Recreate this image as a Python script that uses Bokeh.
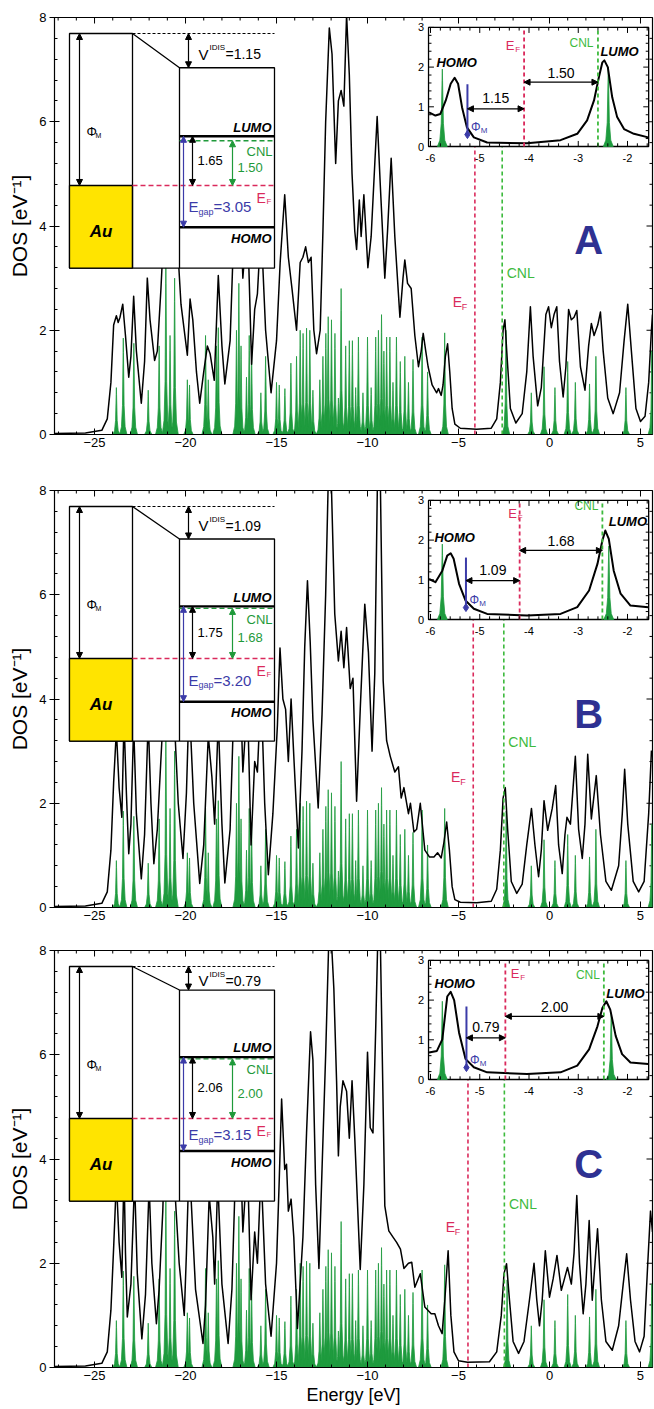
import numpy as np
from bokeh.plotting import figure
from bokeh.layouts import column
from bokeh.models import Range1d, SingleIntervalTicker, Arrow, NormalHead
from bokeh.core.properties import value
from bokeh.embed import file_html
from bokeh.resources import INLINE

FONT = "Liberation Sans"
SPIKE_GREEN = "#1E9B3E"
RED = "#DA2A5C"
LGREEN = "#3DBA3D"
DGREEN = "#1F9A3A"
BLUE = "#3B3BA8"
LETTER_BLUE = "#2E3192"
YELLOW = "#FFE400"

# ------------------------------------------------------------------ data
panel_letters = ["A", "B", "C"]
e_fermi = [-4.10, -4.19, -4.48]          # eV, red dashed line
e_cnl = [-2.60, -2.51, -2.48]            # eV, green dashed line
phi_m = [5.10, 5.10, 5.10]               # metal work function (band diagram)
v_idis = [1.15, 1.09, 0.79]
d_lumo = [1.65, 1.75, 2.06]              # LUMO - E_F
d_cnl = [1.50, 1.68, 2.00]               # CNL - E_F
e_gap = [3.05, 3.20, 3.15]

dos_a = [(-27.2, 0.02), (-25.5, 0.03), (-24.6, 0.08), (-24.3, 0.3), (-24.1, 1.0), (-23.95, 2.1), (-23.8, 2.28),
         (-23.7, 2.15), (-23.6, 2.25), (-23.45, 2.5), (-23.3, 1.9), (-23.12, 1.1), (-23.0, 1.5), (-22.85, 2.65),
         (-22.7, 1.6), (-22.43, 0.6), (-22.25, 1.4), (-22.1, 3.0), (-21.95, 2.2), (-21.7, 1.42), (-21.55, 1.6),
         (-21.35, 2.8), (-21.1, 4.6), (-20.9, 4.0), (-20.7, 3.6), (-20.5, 4.0), (-20.25, 2.5), (-19.9, 1.52),
         (-19.75, 2.6), (-19.6, 2.2), (-19.4, 1.2), (-19.22, 0.6), (-19.0, 1.2), (-18.8, 1.7), (-18.65, 1.55),
         (-18.42, 1.04), (-18.2, 3.05), (-18.0, 1.7), (-17.84, 0.97), (-17.55, 1.8), (-17.3, 4.4), (-17.05, 5.0),
         (-16.85, 3.0), (-16.6, 4.2), (-16.37, 1.35), (-16.2, 2.4), (-16.05, 2.7), (-15.85, 4.0), (-15.6, 2.0),
         (-15.3, 0.8), (-15.0, 1.8), (-14.8, 3.3), (-14.55, 4.6), (-14.35, 3.4), (-14.15, 2.8), (-13.9, 2.0),
         (-13.7, 3.3), (-13.55, 3.4), (-13.4, 3.6), (-13.25, 3.3), (-13.1, 3.4), (-12.95, 2.0), (-12.8, 1.55),
         (-12.6, 2.0), (-12.45, 3.9), (-12.3, 6.0), (-12.1, 7.8), (-11.95, 7.3), (-11.75, 5.2), (-11.6, 6.4),
         (-11.45, 6.6), (-11.3, 6.3), (-11.15, 8.05), (-11.0, 6.9), (-10.85, 5.0), (-10.7, 3.9), (-10.6, 3.55),
         (-10.45, 4.5), (-10.35, 3.8), (-10.2, 4.6), (-9.98, 3.2), (-9.8, 3.8), (-9.6, 5.2), (-9.47, 6.1),
         (-9.3, 4.8), (-9.05, 3.0), (-8.9, 3.9), (-8.7, 5.3), (-8.5, 3.8), (-8.22, 2.25), (-8.05, 3.0),
         (-7.95, 3.35), (-7.8, 2.9), (-7.6, 2.8), (-7.4, 1.9), (-7.2, 1.3), (-7.05, 1.6), (-6.94, 1.94),
         (-6.8, 1.6), (-6.67, 1.3), (-6.45, 0.95), (-6.2, 0.8), (-6.1, 0.88), (-5.95, 0.75), (-5.85, 0.95),
         (-5.72, 1.5), (-5.6, 1.74), (-5.48, 1.2), (-5.35, 0.5), (-5.2, 0.2), (-4.9, 0.12), (-4.0, 0.1),
         (-3.2, 0.12), (-2.9, 0.3), (-2.7, 1.0), (-2.55, 2.0), (-2.45, 2.2), (-2.35, 1.6), (-2.15, 0.5),
         (-1.85, 0.22), (-1.5, 0.4), (-1.25, 1.2), (-1.05, 2.45), (-0.9, 1.5), (-0.65, 0.55), (-0.45, 0.9),
         (-0.2, 2.3), (-0.05, 2.45), (0.1, 2.05), (0.25, 2.3), (0.4, 2.45), (0.55, 1.4), (0.75, 0.72),
         (0.9, 1.3), (1.05, 2.4), (1.2, 2.2), (1.35, 2.25), (1.5, 2.38), (1.7, 1.3), (1.95, 0.85), (2.15, 1.7),
         (2.3, 2.13), (2.45, 1.9), (2.65, 2.1), (2.8, 2.35), (2.95, 1.6), (3.2, 0.7), (3.5, 0.4), (3.85, 0.8),
         (4.1, 1.8), (4.3, 2.5), (4.5, 1.6), (4.75, 0.5), (5.0, 0.25), (5.25, 0.35), (5.45, 1.0), (5.6, 2.0),
         (5.66, 2.3)]

dos_b = [(-27.2, 0.02), (-25.5, 0.03), (-24.6, 0.08), (-24.3, 0.3), (-24.1, 1.1), (-23.95, 2.4), (-23.8, 3.4),
         (-23.65, 2.3), (-23.5, 1.73), (-23.38, 3.6), (-23.25, 2.2), (-23.12, 1.03), (-23.0, 1.6), (-22.85, 3.5),
         (-22.7, 1.8), (-22.43, 0.55), (-22.25, 1.4), (-22.05, 3.6), (-21.9, 2.0), (-21.74, 0.84), (-21.55, 1.5),
         (-21.3, 3.2), (-21.1, 4.8), (-20.9, 3.8), (-20.6, 3.5), (-20.4, 2.0), (-20.14, 0.94), (-19.95, 2.2),
         (-19.8, 4.0), (-19.55, 2.0), (-19.22, 0.46), (-19.0, 1.2), (-18.75, 3.3), (-18.55, 2.5), (-18.4, 1.6),
         (-18.2, 3.6), (-18.0, 1.6), (-17.84, 0.47), (-17.55, 1.5), (-17.3, 4.4), (-17.05, 5.0), (-16.85, 2.6),
         (-16.6, 4.0), (-16.4, 1.2), (-16.2, 2.8), (-16.05, 2.6), (-15.85, 4.2), (-15.65, 2.0), (-15.45, 0.63),
         (-15.2, 1.8), (-14.95, 3.5), (-14.81, 4.98), (-14.65, 4.0), (-14.5, 3.8), (-14.35, 2.8), (-14.2, 4.0),
         (-14.05, 2.9), (-13.8, 1.14), (-13.6, 3.0), (-13.45, 5.0), (-13.3, 6.27), (-13.15, 5.1), (-13.0, 3.6),
         (-12.71, 1.91), (-12.5, 3.7), (-12.3, 6.0), (-12.15, 8.3), (-12.0, 8.3), (-11.8, 5.63), (-11.6, 4.73),
         (-11.45, 5.3), (-11.3, 4.6), (-11.15, 5.37), (-10.95, 4.2), (-10.8, 4.4), (-10.6, 2.04), (-10.4, 3.8),
         (-10.15, 5.82), (-9.95, 4.9), (-9.75, 3.0), (-9.6, 4.5), (-9.45, 8.3), (-9.3, 8.3), (-9.14, 4.35),
         (-8.95, 3.2), (-8.75, 2.9), (-8.5, 2.6), (-8.3, 2.7), (-8.15, 2.1), (-8.0, 2.3), (-7.75, 1.8),
         (-7.64, 2.0), (-7.45, 1.45), (-7.3, 1.5), (-7.1, 2.0), (-6.85, 1.1), (-6.6, 0.97), (-6.35, 0.97),
         (-6.15, 1.05), (-5.95, 0.95), (-5.8, 1.25), (-5.65, 1.64), (-5.5, 1.1), (-5.35, 0.4), (-5.2, 0.15),
         (-4.9, 0.1), (-4.0, 0.09), (-3.2, 0.12), (-2.9, 0.35), (-2.7, 1.1), (-2.55, 2.1), (-2.43, 2.3),
         (-2.3, 1.5), (-2.1, 0.5), (-1.8, 0.27), (-1.5, 0.45), (-1.25, 1.2), (-0.99, 1.9), (-0.8, 1.2),
         (-0.6, 0.59), (-0.45, 1.1), (-0.3, 2.05), (-0.1, 1.48), (0.15, 1.9), (0.34, 2.34), (0.5, 1.2),
         (0.7, 0.65), (0.85, 1.4), (0.96, 1.73), (1.15, 1.6), (1.42, 2.9), (1.6, 1.5), (1.8, 0.94), (1.95, 1.6),
         (2.1, 2.94), (2.3, 1.7), (2.57, 2.53), (2.8, 1.4), (3.1, 0.5), (3.4, 0.33), (3.8, 0.8), (4.0, 1.8),
         (4.13, 2.65), (4.3, 1.6), (4.6, 0.5), (4.9, 0.3), (5.2, 0.5), (5.45, 1.8), (5.6, 3.0), (5.66, 2.9)]

dos_c = [(-27.2, 0.02), (-25.5, 0.03), (-24.6, 0.08), (-24.3, 0.3), (-24.1, 1.1), (-23.95, 2.3), (-23.8, 3.6),
         (-23.65, 2.4), (-23.5, 1.73), (-23.38, 3.8), (-23.3, 2.2), (-23.2, 0.97), (-23.0, 1.6), (-22.8, 3.6),
         (-22.65, 1.8), (-22.4, 0.55), (-22.2, 1.4), (-22.0, 3.5), (-21.85, 2.0), (-21.6, 0.84), (-21.45, 1.5),
         (-21.25, 3.0), (-21.1, 4.8), (-20.9, 3.8), (-20.6, 3.5), (-20.35, 2.0), (-20.07, 1.0), (-19.95, 2.2),
         (-19.8, 4.0), (-19.45, 1.5), (-19.04, 0.46), (-18.9, 1.2), (-18.7, 3.3), (-18.5, 2.5), (-18.4, 1.6),
         (-18.23, 3.6), (-18.0, 1.6), (-17.66, 0.46), (-17.45, 1.5), (-17.2, 4.4), (-17.05, 5.0), (-16.85, 2.6),
         (-16.6, 4.0), (-16.4, 1.3), (-16.2, 2.6), (-16.05, 2.0), (-15.85, 3.8), (-15.6, 1.6), (-15.3, 0.6),
         (-15.0, 2.0), (-14.85, 3.6), (-14.72, 5.15), (-14.55, 3.8), (-14.45, 3.9), (-14.35, 3.0), (-14.2, 3.23),
         (-14.05, 2.5), (-13.85, 0.75), (-13.55, 2.5), (-13.35, 4.5), (-13.13, 6.44), (-13.0, 5.9), (-12.85, 3.5),
         (-12.67, 1.9), (-12.5, 3.8), (-12.3, 6.0), (-12.12, 8.3), (-12.0, 8.3), (-11.85, 7.27), (-11.7, 5.5),
         (-11.6, 4.06), (-11.5, 5.0), (-11.35, 5.5), (-11.15, 5.3), (-11.0, 4.4), (-10.85, 5.5), (-10.7, 4.4),
         (-10.4, 1.88), (-10.2, 3.5), (-10.0, 6.05), (-9.85, 4.6), (-9.7, 4.5), (-9.55, 6.5), (-9.43, 8.3),
         (-9.3, 8.3), (-9.05, 3.1), (-8.83, 2.62), (-8.6, 2.5), (-8.4, 2.4), (-8.19, 2.27), (-8.0, 1.9),
         (-7.75, 2.0), (-7.57, 2.02), (-7.4, 1.54), (-7.1, 1.8), (-6.85, 1.16), (-6.5, 1.03), (-6.3, 1.03),
         (-6.1, 0.8), (-5.9, 0.65), (-5.75, 1.3), (-5.57, 2.24), (-5.42, 1.0), (-5.25, 0.3), (-5.0, 0.13),
         (-4.5, 0.1), (-3.3, 0.11), (-2.9, 0.3), (-2.65, 1.0), (-2.5, 1.8), (-2.36, 1.99), (-2.2, 1.3),
         (-2.0, 0.5), (-1.7, 0.27), (-1.4, 0.5), (-1.1, 1.3), (-0.85, 2.0), (-0.7, 1.3), (-0.55, 0.8),
         (-0.4, 1.3), (-0.23, 2.24), (0.0, 1.35), (0.2, 1.7), (0.41, 2.15), (0.65, 1.48), (0.99, 1.92),
         (1.2, 1.6), (1.35, 2.2), (1.5, 3.3), (1.65, 2.0), (1.85, 1.03), (2.0, 1.6), (2.18, 2.82), (2.35, 1.29),
         (2.5, 2.0), (2.64, 2.66), (2.85, 1.3), (3.1, 0.5), (3.45, 0.33), (3.8, 0.8), (4.05, 1.6), (4.24, 2.18),
         (4.45, 1.3), (4.7, 0.5), (4.95, 0.3), (5.2, 0.6), (5.4, 2.0), (5.55, 3.0), (5.66, 2.6)]

# molecular levels (green spikes), shared by all three panels
spike_x = [-23.8, -23.42, -22.84, -22.05, -21.45, -21.08, -20.85, -20.6, -19.9, -19.78, -18.9, -18.75,
           -18.3, -18.2, -17.2, -17.07, -16.95, -16.65, -16.5, -16.37, -15.86, -15.6, -15.0, -14.85,
           -14.54, -14.21, -13.9, -13.7, -13.54, -13.35, -13.17, -13.0, -12.62, -12.45, -12.29, -12.16,
           -11.98, -11.79, -11.6, -11.45, -11.2, -11.0, -10.83, -10.65, -10.5, -10.25, -10.0, -9.8, -9.55,
           -9.4, -9.23, -9.1, -8.95, -8.77, -8.6, -8.41, -8.2, -7.95, -7.75, -7.5, -7.0, -6.7,
           -1.0, -0.3, 0.3, 1.0, 1.42, 2.2, 2.55, 4.2, 5.62]
spike_h = [0.9, 1.85, 1.75, 0.85, 1.7, 3.4, 1.9, 3.0, 1.05, 0.95, 1.9, 1.05,
           1.7, 2.05, 2.0, 2.9, 1.7, 1.1, 1.9, 1.6, 0.8, 1.5, 1.0, 0.95,
           0.88, 1.37, 1.5, 2.0, 1.94, 2.04, 2.0, 0.85, 1.05, 1.5, 1.94, 2.26,
           2.2, 1.94, 0.7, 2.8, 1.7, 1.8, 1.8, 0.9, 1.87, 0.8, 1.87, 0.9, 1.87,
           2.0, 2.3, 1.6, 1.87, 1.87, 1.0, 1.87, 1.4, 1.5, 1.0, 1.44, 1.87, 1.2,
           0.8, 1.3, 0.9, 1.4, 1.0, 0.97, 1.5, 0.9, 1.6]
homo_spike_x = [-5.76, -5.76, -5.76]
homo_spike_h = [1.95, 1.90, 1.97]
lumo_spike_x = [-2.39, -2.38, -2.33]
lumo_spike_h = [2.00, 1.85, 1.68]

# zoomed insets (-6 ... -1.6 eV)
ins_a = [(-6.03, 0.86), (-5.90, 0.78), (-5.80, 0.82), (-5.69, 1.16), (-5.59, 1.58), (-5.51, 1.73), (-5.44, 1.58),
         (-5.36, 0.99), (-5.26, 0.48), (-5.12, 0.23), (-4.85, 0.10), (-4.04, 0.08), (-3.36, 0.16), (-3.02, 0.32),
         (-2.82, 0.66), (-2.68, 1.16), (-2.58, 1.75), (-2.51, 2.12), (-2.47, 2.17), (-2.40, 2.0), (-2.31, 1.24),
         (-2.21, 0.74), (-2.07, 0.44), (-1.87, 0.32), (-1.58, 0.23)]
ins_b = [(-6.03, 1.02), (-5.90, 0.94), (-5.76, 1.23), (-5.66, 1.61), (-5.59, 1.67), (-5.53, 1.53), (-5.42, 0.90),
         (-5.29, 0.48), (-5.12, 0.27), (-4.85, 0.14), (-4.04, 0.10), (-3.36, 0.14), (-3.02, 0.31), (-2.78, 0.73),
         (-2.61, 1.40), (-2.51, 1.99), (-2.45, 2.24), (-2.38, 2.03), (-2.28, 1.23), (-2.14, 0.65), (-1.94, 0.35),
         (-1.58, 0.31)]
ins_c = [(-6.03, 0.68), (-5.87, 0.72), (-5.76, 1.01), (-5.66, 2.09), (-5.59, 2.21), (-5.52, 2.0), (-5.42, 1.18),
         (-5.29, 0.52), (-5.12, 0.31), (-4.85, 0.18), (-4.04, 0.14), (-3.36, 0.18), (-3.02, 0.35), (-2.78, 0.76),
         (-2.61, 1.34), (-2.51, 1.80), (-2.43, 1.97), (-2.35, 1.76), (-2.24, 1.10), (-2.11, 0.64), (-1.94, 0.43),
         (-1.58, 0.39)]

# tick values
main_xticks = [-25, -20, -15, -10, -5, 0, 5]
main_xminor = [-27, -26, -24, -23, -22, -21, -19, -18, -17, -16, -14, -13, -12, -11, -9, -8, -7, -6,
               -4, -3, -2, -1, 1, 2, 3, 4]
main_yticks = [0, 2, 4, 6, 8]
main_yminor = [0.4, 0.8, 1.2, 1.6, 2.4, 2.8, 3.2, 3.6, 4.4, 4.8, 5.2, 5.6, 6.4, 6.8, 7.2, 7.6]
inset_xticks = [-6, -5, -4, -3, -2]
inset_yticks = [0, 1, 2, 3]

dos_sets = [dos_a, dos_b, dos_c]
ins_sets = [ins_a, ins_b, ins_c]

# ------------------------------------------------------------------ layout constants (pixels / positions)
FW, FH = 598, 417
XR = (-27.2, 5.66)
YR = (0, 8)
INS_X0_PX, INS_XS = 376.0, 49.25      # inset x=-6 at 376 px from frame left
INS_Y0_PX, INS_YS = 129.0, 39.7       # inset y=0 at 129 px below frame top
BD_VAC_PX, BD_YS = 16.0, 29.8         # band diagram vacuum level 16 px below top, 29.8 px/eV
IX0, IX1 = -6.04, -1.57
BD_BOT = -7.87
M0, M1, G1, R = 15, 78, 125, 220      # band diagram x positions (px from frame left)

ins_arrow_y = [(0.95, 1.62), (0.98, 1.74), (1.05, 1.59)]
ins_homo_pos = [(-5.88, 2.12), (-5.92, 2.07), (-5.92, 2.42)]
ins_lumo_pos = [(-2.55, 2.39), (-2.38, 2.47), (-2.43, 2.17)]
ins_ef_pos = [(-4.47, 2.55), (-4.42, 2.66), (-4.37, 2.67)]
ins_cnl_pos = [(-2.69, 2.6), (-2.59, 2.87), (-2.56, 2.63)]
ins_phi_top = [1.57, 1.56, 1.84]
letter_y = [3.73, 3.71, 3.9]
main_ef_lab_y = [2.55, 2.5, 2.69]
main_cnl_lab_y = [3.09, 3.17, 3.13]

SHAPE_DX = [-1, -0.5, -0.22, -0.05, 0, 0.05, 0.22, 0.5, 1]
SHAPE_DY = [0, 0.08, 0.3, 0.85, 1, 0.85, 0.3, 0.08, 0]


def spike_patches(xs, hs, hw):
    px = [[x + d * hw for d in SHAPE_DX] for x in xs]
    py = [[h * f for f in SHAPE_DY] for h in hs]
    return px, py


def T(p, x, y, s, size, color="black", style="normal", align="left", base="middle", rng=None):
    kw = {}
    if rng:
        kw = dict(x_range_name=rng[0], y_range_name=rng[1])
    p.text(x=[x], y=[y], text=[s], text_font=value(FONT), text_font_size=f"{size}px",
           text_color=color, text_font_style=style, text_align=align, text_baseline=base, **kw)


def ARR(p, x0, y0, x1, y1, color, rng, size=6, width=1.2):
    p.add_layout(Arrow(x_start=x0, y_start=y0, x_end=x1, y_end=y1, line_color=color, line_width=width,
                       start=NormalHead(size=size, fill_color=color, line_color=color),
                       end=NormalHead(size=size, fill_color=color, line_color=color),
                       x_range_name=rng[0], y_range_name=rng[1]))


def style_axis(ax, tick_in, tick_out):
    ax.axis_line_color = "black"
    ax.major_tick_line_color = "black"
    ax.minor_tick_line_color = "black"
    ax.major_tick_in = tick_in
    ax.major_tick_out = tick_out
    ax.minor_tick_in = 3
    ax.minor_tick_out = 0
    ax.major_label_text_font = FONT
    ax.major_label_text_font_size = "13px"
    ax.major_label_text_color = "black"
    ax.major_label_standoff = 3
    ax.axis_label_text_color = "black"
    ax.axis_label_text_font = FONT
    ax.axis_label_text_font_style = "normal"


def make_panel(i, top, bottom, xlabel):
    p = figure(frame_width=FW, frame_height=FH, x_range=Range1d(*XR), y_range=Range1d(*YR),
               output_backend="svg", toolbar_location=None, min_border_left=54, min_border_right=2,
               min_border_top=top, min_border_bottom=bottom, background_fill_color="white")
    p.extra_x_ranges = {"ix": Range1d(-6 - INS_X0_PX / INS_XS, -6 + (FW - INS_X0_PX) / INS_XS),
                        "bx": Range1d(0, FW)}
    p.extra_y_ranges = {"iy": Range1d(-(FH - INS_Y0_PX) / INS_YS, INS_Y0_PX / INS_YS),
                        "by": Range1d(-(FH - BD_VAC_PX) / BD_YS, BD_VAC_PX / BD_YS)}
    p.xgrid.visible = False
    p.ygrid.visible = False
    p.outline_line_color = "black"
    p.outline_line_width = 1.2

    xa, ya = p.xaxis[0], p.yaxis[0]
    xa.ticker = SingleIntervalTicker(interval=5, num_minor_ticks=5)
    ya.ticker = SingleIntervalTicker(interval=2, num_minor_ticks=5)
    style_axis(xa, 6, 0)
    style_axis(ya, 5, 5)
    ya.axis_label = "DOS [eV\u207b\u00b9]"
    ya.axis_label_text_font_size = "21px"
    ya.axis_label_standoff = 5
    if xlabel:
        xa.axis_label = "Energy [eV]"
        xa.axis_label_text_font_size = "18px"
        xa.axis_label_standoff = 2

    # mirrored ticks on top and right frame edges
    tk_y = (YR[1] - YR[0]) / FH          # data units per pixel (vertical)
    tk_x = (XR[1] - XR[0]) / FW          # data units per pixel (horizontal)
    p.segment(x0=main_xticks, y0=[YR[1]] * len(main_xticks), x1=main_xticks,
              y1=[YR[1] - 6 * tk_y] * len(main_xticks), line_color="black", line_width=1)
    p.segment(x0=main_xminor, y0=[YR[1]] * len(main_xminor), x1=main_xminor,
              y1=[YR[1] - 3 * tk_y] * len(main_xminor), line_color="black", line_width=1)
    p.segment(x0=[XR[1]] * len(main_yticks), y0=main_yticks, x1=[XR[1] - 6 * tk_x] * len(main_yticks),
              y1=main_yticks, line_color="black", line_width=1)
    p.segment(x0=[XR[1]] * len(main_yminor), y0=main_yminor, x1=[XR[1] - 3 * tk_x] * len(main_yminor),
              y1=main_yminor, line_color="black", line_width=1)

    ef, cn = e_fermi[i], e_cnl[i]

    # ---- main DOS
    sx = spike_x + [homo_spike_x[i], lumo_spike_x[i]]
    sh = spike_h + [homo_spike_h[i], lumo_spike_h[i]]
    px, py = spike_patches(sx, sh, 0.2)
    p.patches(px, py, fill_color=SPIKE_GREEN, line_color=SPIKE_GREEN, line_width=0.8)
    dx, dy = zip(*dos_sets[i])
    p.line(list(dx), list(dy), line_color="black", line_width=1.5, line_join="round")
    p.segment(x0=[ef], y0=[0], x1=[ef], y1=[7.0], line_color=RED, line_width=1.6, line_dash="4 3")
    p.segment(x0=[cn], y0=[0], x1=[cn], y1=[7.0], line_color=LGREEN, line_width=1.6, line_dash="4 3")
    T(p, ef - 1.22, main_ef_lab_y[i], "E", 14, RED)
    T(p, ef - 0.72, main_ef_lab_y[i] - 0.1, "F", 9, RED)
    T(p, cn + 0.25, main_cnl_lab_y[i], "CNL", 14, LGREEN)
    T(p, 2.15, letter_y[i], panel_letters[i], 40, LETTER_BLUE, style="bold", align="center")

    # ---- band diagram (upper left)
    b = ("bx", "by")
    efy = -phi_m[i]
    lu = efy + d_lumo[i]
    ho = lu - e_gap[i]
    cy = efy + d_cnl[i]
    mv = -v_idis[i]
    p.patch([M0, M1, G1, R, R, M0], [0, 0, mv, mv, BD_BOT, BD_BOT], fill_color="white",
            line_color="black", line_width=1.3, x_range_name="bx", y_range_name="by")
    p.quad(left=[M0], right=[M1], bottom=[BD_BOT], top=[efy], fill_color=YELLOW, line_color="black",
           line_width=1.3, x_range_name="bx", y_range_name="by")
    p.segment(x0=[M1, G1], y0=[BD_BOT, BD_BOT], x1=[M1, G1], y1=[0, mv], line_color="black",
              line_width=1.3, x_range_name="bx", y_range_name="by")
    p.segment(x0=[M1], y0=[0], x1=[R], y1=[0], line_color="black", line_width=1.2, line_dash="3 2",
              x_range_name="bx", y_range_name="by")
    p.segment(x0=[M1], y0=[efy], x1=[R], y1=[efy], line_color=RED, line_width=1.4, line_dash="5 3",
              x_range_name="bx", y_range_name="by")
    p.segment(x0=[G1], y0=[cy], x1=[R], y1=[cy], line_color=DGREEN, line_width=1.4, line_dash="5 3",
              x_range_name="bx", y_range_name="by")
    p.segment(x0=[G1, G1], y0=[lu, ho], x1=[R, R], y1=[lu, ho], line_color="black", line_width=2.4,
              x_range_name="bx", y_range_name="by")
    ARR(p, 25, 0, 25, efy, "black", b)
    ARR(p, 134, 0, 134, mv, "black", b)
    ARR(p, 129, lu, 129, ho, BLUE, b)
    ARR(p, 138, lu, 138, efy, "black", b)
    ARR(p, 178, cy, 178, efy, DGREEN, b)
    T(p, 32, -3.3, "\u03a6", 13, "black", rng=b)
    T(p, 41, -3.43, "M", 7, "black", rng=b)
    vy = -0.6 * v_idis[i]
    T(p, 144, vy, "V", 15, "black", rng=b)
    T(p, 155, vy + 0.22, "IDIS", 8, "black", rng=b)
    T(p, 171, vy, f"={v_idis[i]:.2f}", 14, "black", rng=b)
    T(p, 217, lu + 0.06, "LUMO", 13, "black", style="bold italic", align="right", base="bottom", rng=b)
    T(p, 217, ho - 0.12, "HOMO", 13, "black", style="bold italic", align="right", base="top", rng=b)
    T(p, 218, cy - 0.12, "CNL", 13, DGREEN, align="right", base="top", rng=b)
    T(p, 143, (lu + efy) / 2, f"{d_lumo[i]:.2f}", 13, "black", rng=b)
    T(p, 183, (cy + efy) / 2 - 0.15, f"{d_cnl[i]:.2f}", 13, DGREEN, rng=b)
    T(p, 202, efy - 0.42, "E", 14, RED, rng=b)
    T(p, 212, efy - 0.55, "F", 8, RED, rng=b)
    gm = (efy + ho) / 2
    T(p, 134, gm, "E", 15, BLUE, rng=b)
    T(p, 144, gm - 0.18, "gap", 9, BLUE, rng=b)
    T(p, 159, gm, f"={e_gap[i]:.2f}", 15, BLUE, rng=b)
    T(p, (M0 + M1) / 2, (efy + BD_BOT) / 2 - 0.15, "Au", 17, "black", style="bold italic", align="center", rng=b)

    # ---- zoomed inset (upper right)
    r = ("ix", "iy")
    p.quad(left=[IX0], right=[IX1], bottom=[0], top=[3], fill_color="white", line_color="black",
           line_width=1.3, x_range_name="ix", y_range_name="iy")
    ipx, ipy = spike_patches([homo_spike_x[i], lumo_spike_x[i]], [homo_spike_h[i], lumo_spike_h[i]], 0.1)
    p.patches(ipx, ipy, fill_color=SPIKE_GREEN, line_color=SPIKE_GREEN, line_width=0.8,
              x_range_name="ix", y_range_name="iy")
    ix, iy = zip(*ins_sets[i])
    p.line(list(ix), list(iy), line_color="black", line_width=2.0, line_join="round",
           x_range_name="ix", y_range_name="iy")
    p.segment(x0=[ef], y0=[0], x1=[ef], y1=[3], line_color=RED, line_width=1.8, line_dash="4 3",
              x_range_name="ix", y_range_name="iy")
    p.segment(x0=[cn], y0=[0], x1=[cn], y1=[3], line_color=LGREEN, line_width=1.8, line_dash="4 3",
              x_range_name="ix", y_range_name="iy")
    phx = ef - v_idis[i]
    p.segment(x0=[phx], y0=[0.3], x1=[phx], y1=[ins_phi_top[i]], line_color=BLUE, line_width=2.0,
              x_range_name="ix", y_range_name="iy")
    p.scatter([phx], [0.3], marker="diamond", size=8, fill_color=BLUE, line_color=BLUE,
              x_range_name="ix", y_range_name="iy")
    a1, a2 = ins_arrow_y[i]
    ARR(p, phx, a1, ef, a1, "black", r, size=6, width=1.3)
    ARR(p, ef, a2, cn, a2, "black", r, size=6, width=1.3)
    T(p, (phx + ef) / 2, a1 + 0.26, f"{v_idis[i]:.2f}", 14, "black", align="center", rng=r)
    T(p, (ef + cn) / 2, a2 + 0.24, f"{d_cnl[i]:.2f}", 14, "black", align="center", rng=r)
    T(p, phx + 0.07, 0.5, "\u03a6", 12, BLUE, rng=r)
    T(p, phx + 0.27, 0.4, "M", 8, BLUE, rng=r)
    T(p, ins_homo_pos[i][0], ins_homo_pos[i][1], "HOMO", 13, "black", style="bold italic", rng=r)
    T(p, ins_lumo_pos[i][0], ins_lumo_pos[i][1], "LUMO", 13, "black", style="bold italic", rng=r)
    T(p, ins_ef_pos[i][0], ins_ef_pos[i][1], "E", 13, RED, rng=r)
    T(p, ins_ef_pos[i][0] + 0.19, ins_ef_pos[i][1] - 0.1, "F", 8, RED, rng=r)
    T(p, ins_cnl_pos[i][0], ins_cnl_pos[i][1], "CNL", 12, LGREEN, align="right", rng=r)
    # inset ticks
    xmaj = inset_xticks
    xmin = [v for v in np.round(np.arange(-6.0, -1.58, 0.2), 2) if abs(v - round(v)) > 1e-6]
    ymaj = inset_yticks
    ymin = [v for v in np.round(np.arange(0.0, 3.01, 0.2), 2) if abs(v - round(v)) > 1e-6]
    segs = []
    for v in xmaj:
        segs += [(v, 0, v, 0.14), (v, 3, v, 2.86)]
    for v in xmin:
        segs += [(v, 0, v, 0.08), (v, 3, v, 2.92)]
    for v in ymaj:
        segs += [(IX0, v, IX0 + 0.11, v), (IX1, v, IX1 - 0.11, v)]
    for v in ymin:
        segs += [(IX0, v, IX0 + 0.06, v), (IX1, v, IX1 - 0.06, v)]
    s0, s1, s2, s3 = zip(*segs)
    p.segment(x0=list(s0), y0=list(s1), x1=list(s2), y1=list(s3), line_color="black", line_width=1.0,
              x_range_name="ix", y_range_name="iy")
    p.text(x=xmaj, y=[-0.28] * len(xmaj), text=[str(v) for v in xmaj], text_font=value(FONT),
           text_font_size="11px", text_align="center", text_baseline="middle", text_color="black",
           x_range_name="ix", y_range_name="iy")
    p.text(x=[IX0 - 0.09] * len(ymaj), y=ymaj, text=[str(v) for v in ymaj], text_font=value(FONT),
           text_font_size="11px", text_align="right", text_baseline="middle", text_color="black",
           x_range_name="ix", y_range_name="iy")
    return p


pa = make_panel(0, 17, 36, False)
pb = make_panel(1, 20, 28, False)
pc = make_panel(2, 15, 42, True)
layout = column(pa, pb, pc, spacing=0)
open("out.html", "w").write(file_html(layout, INLINE))
